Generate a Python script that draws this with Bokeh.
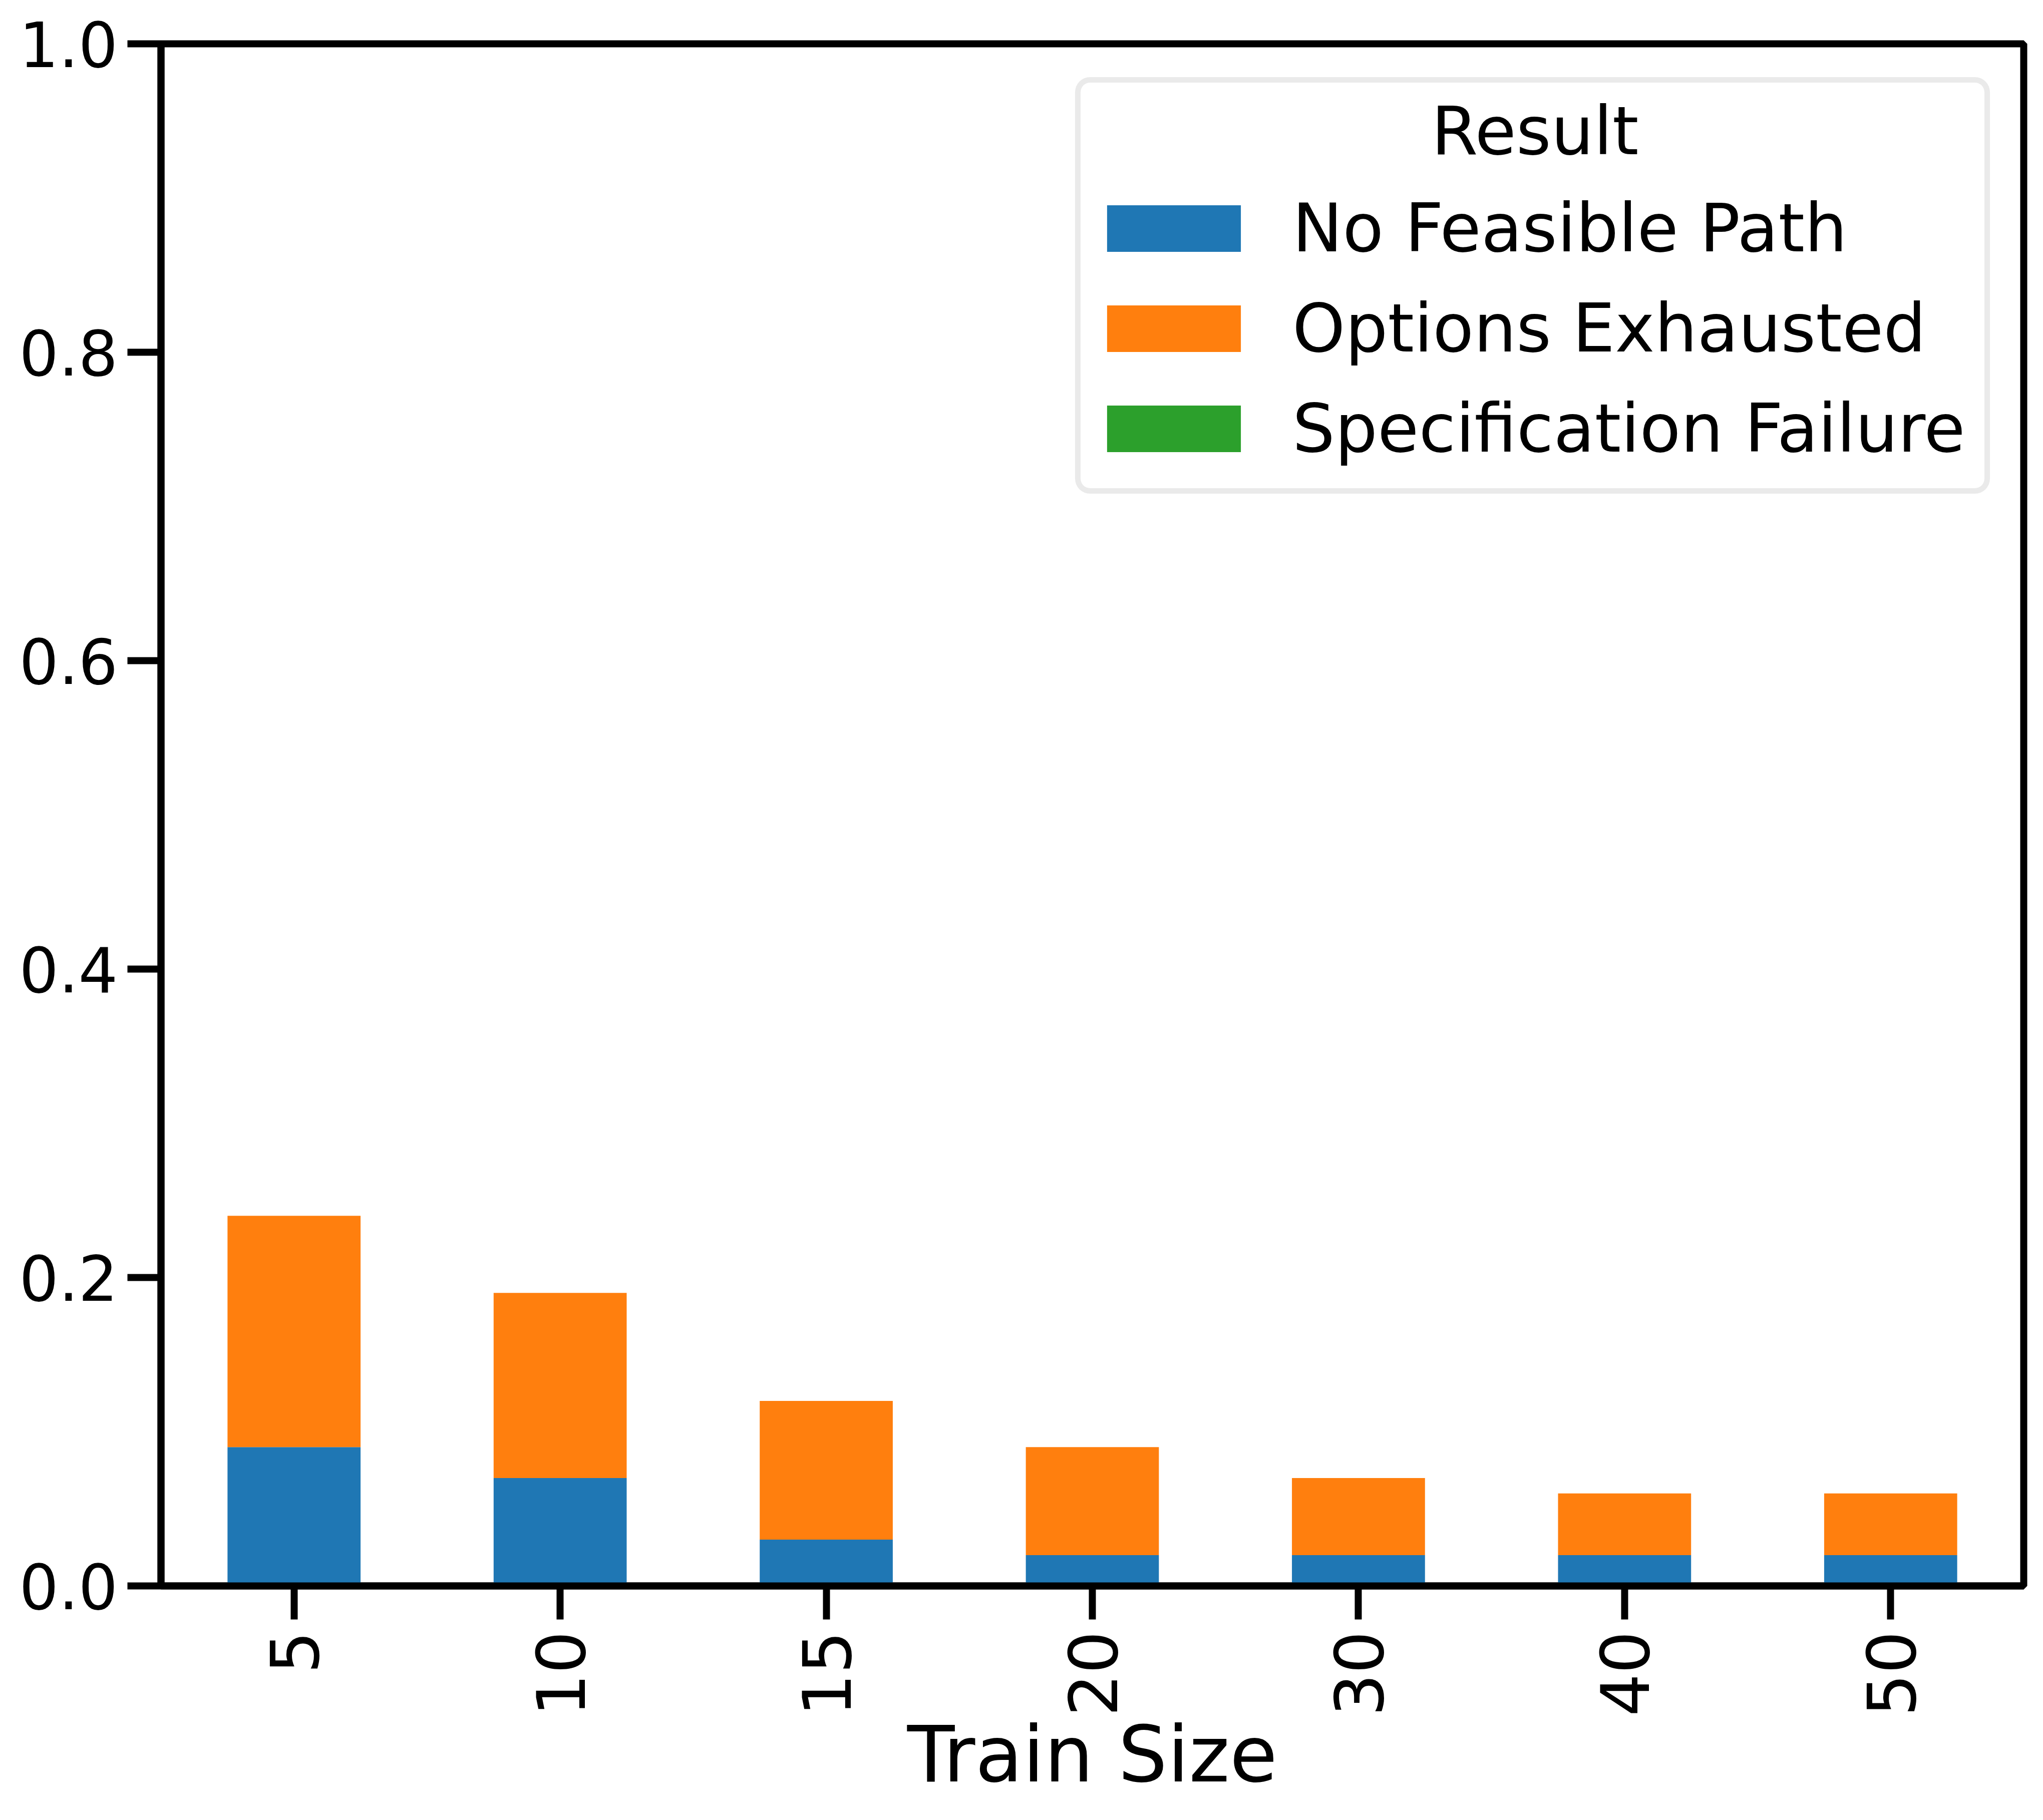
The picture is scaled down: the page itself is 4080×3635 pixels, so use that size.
from math import pi
from bokeh.plotting import figure
from bokeh.models import (FactorRange, Range1d, FixedTicker, PrintfTickFormatter,
                          Legend, LegendItem, ColumnDataSource)
from bokeh.embed import file_html
from bokeh.resources import INLINE

# ---- data ----
train_sizes = ["5", "10", "15", "20", "30", "40", "50"]
no_feasible_path = [0.09, 0.07, 0.03, 0.02, 0.02, 0.02, 0.02]
options_exhausted = [0.15, 0.12, 0.09, 0.07, 0.05, 0.04, 0.04]
specification_failure = [0.0, 0.0, 0.0, 0.0, 0.0, 0.0, 0.0]
series_names = ["No Feasible Path", "Options Exhausted", "Specification Failure"]
series_keys = ["nfp", "oe", "sf"]
series_colors = ["#1f77b4", "#ff7f0e", "#2ca02c"]
y_ticks = [0.0, 0.2, 0.4, 0.6, 0.8, 1.0]
legend_title = "Result"

source = ColumnDataSource(dict(size=train_sizes, nfp=no_feasible_path,
                               oe=options_exhausted, sf=specification_failure))

FONT = "DejaVu Sans"

p = figure(width=4064, height=3619, x_range=FactorRange(*train_sizes),
           y_range=Range1d(0, 1), output_backend="svg", toolbar_location=None,
           min_border_left=321, min_border_right=23, min_border_top=87,
           min_border_bottom=452)

renderers = p.vbar_stack(series_keys, x="size", width=0.5, color=series_colors,
                         line_color=None, source=source)

# frame / spines
p.outline_line_color = "black"
p.outline_line_width = 14
p.xgrid.visible = False
p.ygrid.visible = False
p.background_fill_color = "white"
p.border_fill_color = "white"

for ax in (p.xaxis[0], p.yaxis[0]):
    ax.axis_line_color = "black"
    ax.axis_line_width = 14
    ax.major_tick_line_color = "black"
    ax.major_tick_line_width = 14
    ax.major_tick_in = 0
    ax.major_tick_out = 67
    ax.minor_tick_line_color = None
    ax.major_label_text_font = FONT
    ax.major_label_text_color = "black"

p.yaxis.ticker = FixedTicker(ticks=y_ticks)
p.yaxis.formatter = PrintfTickFormatter(format="%.1f")
p.yaxis.major_label_text_font_size = "124px"
p.yaxis.major_label_standoff = 19

p.xaxis.major_label_text_font_size = "134px"
p.xaxis.major_label_orientation = pi / 2
p.xaxis.major_label_standoff = 23
p.xaxis.axis_label = "Train Size"
p.xaxis.axis_label_text_font = FONT
p.xaxis.axis_label_text_font_size = "155px"
p.xaxis.axis_label_text_font_style = "normal"
p.xaxis.axis_label_text_color = "black"
p.xaxis.axis_label_standoff = -17

items = [LegendItem(label=n, renderers=[r]) for n, r in zip(series_names, renderers)]
# the legend title is centred over the entries (non-breaking spaces shift it)
legend = Legend(items=items, location="top_right",
                title="\u00a0" * 16 + legend_title)
legend.title_text_font = FONT
legend.title_text_font_size = "134px"
legend.title_text_font_style = "normal"
legend.title_text_color = "black"
legend.label_text_font = FONT
legend.label_text_font_size = "134px"
legend.label_text_color = "black"
legend.glyph_width = 334
legend.glyph_height = 116
legend.label_standoff = 70
legend.label_height = 200
legend.label_width = 1363
legend.padding = 19
legend.spacing = 0
legend.title_standoff = 16
legend.margin = 67
legend.border_line_color = "#d6d6d6"
legend.border_line_width = 11
legend.background_fill_color = "white"
legend.background_fill_alpha = 1.0
try:
    legend.border_radius = 30
except Exception:
    pass
p.add_layout(legend)

open("out.html", "w").write(file_html(p, INLINE))
